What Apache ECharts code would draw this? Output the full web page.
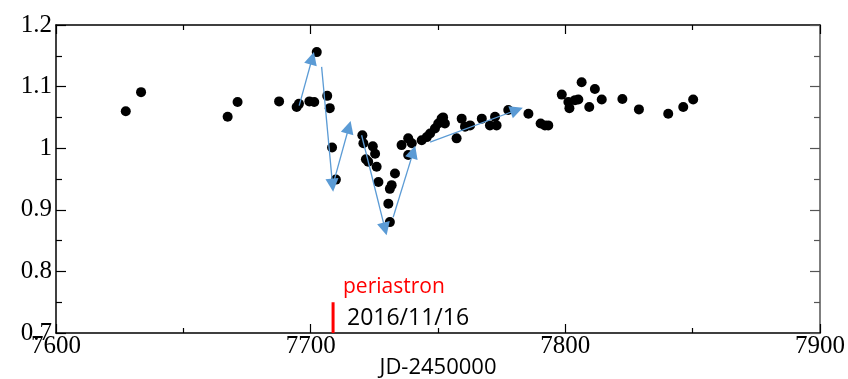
<!DOCTYPE html>
<html>
<head>
<meta charset="utf-8">
<script src="https://cdn.jsdelivr.net/npm/echarts@6/dist/echarts.min.js"></script>
<style>
  html, body { margin: 0; padding: 0; background: #fff; }
  #chart { width: 848px; height: 379px; }
</style>
</head>
<body>
<div id="chart"></div>
<script>
// JD-2450000 of each observation
var jd = [
  7627.4, 7633.4, 7667.4, 7671.3, 7687.6, 7694.5, 7695.4, 7699.5, 7701.4, 7702.4,
  7706.5, 7707.5, 7708.4, 7709.9, 7720.3, 7720.7, 7724.4, 7725.3, 7722.6, 7721.7,
  7725.9, 7726.6, 7733.1, 7731.8, 7731.1, 7730.5, 7731.1, 7735.7, 7738.3, 7739.7,
  7738.3, 7743.6, 7745.6, 7746.9, 7748.8, 7750.1, 7751.4, 7752.0, 7752.7, 7757.3,
  7759.3, 7760.6, 7762.6, 7767.2, 7770.4, 7772.4, 7773.0, 7777.6, 7785.5, 7790.3,
  7792.0, 7793.3, 7798.6, 7801.2, 7801.6, 7803.8, 7805.1, 7806.4, 7809.4, 7811.6,
  7814.3, 7822.4, 7828.9, 7840.4, 7846.3, 7850.2
]
// relative flux
var flux = [
  1.060, 1.091, 1.051, 1.075, 1.076, 1.067, 1.072, 1.076, 1.075, 1.156,
  1.085, 1.065, 1.001, 0.949, 1.021, 1.008, 1.003, 0.991, 0.978, 0.982,
  0.970, 0.945, 0.959, 0.940, 0.934, 0.910, 0.880, 1.005, 1.016, 1.008,
  0.989, 1.013, 1.018, 1.024, 1.032, 1.040, 1.048, 1.050, 1.040, 1.016,
  1.048, 1.035, 1.037, 1.048, 1.037, 1.051, 1.037, 1.062, 1.056, 1.040,
  1.037, 1.037, 1.087, 1.075, 1.065, 1.078, 1.079, 1.107, 1.067, 1.096,
  1.079, 1.080, 1.063, 1.056, 1.067, 1.079
]
// trend arrows: [fromJD, fromFlux, toJD, toFlux]
var arrows = [
  [7695.5, 1.069, 7700.6, 1.146],
  [7704.3, 1.132, 7708.6, 0.940],
  [7708.9, 0.943, 7715.0, 1.034],
  [7720.0, 1.021, 7729.2, 0.869],
  [7732.4, 0.888, 7740.3, 0.994],
  [7746.9, 1.010, 7780.9, 1.062]
]
var periastron = 7708.8
var xTicks = [7600, 7700, 7800, 7900]
var yTicks = [0.7, 0.8, 0.9, 1, 1.1, 1.2]

var points = jd.map(function (x, i) { return [x, flux[i]] })
var arrowData = arrows.map(function (a) {
  return { coords: [[a[0], a[1]], [a[2], a[3]]] }
})

var serif = '"Liberation Serif", "Times New Roman", serif'
var sans = '"Open Sans", "Noto Sans", sans-serif'

var chart = echarts.init(document.getElementById('chart'), null, { renderer: 'canvas' })

var axisLine = { show: true, lineStyle: { color: '#000', width: 1.5 } }

chart.setOption({
  animation: false,
  grid: { left: 56, right: 28, top: 25, bottom: 46, outerBoundsMode: 'none' },
  xAxis: [{
    type: 'value',
    min: xTicks[0],
    max: xTicks[xTicks.length - 1],
    interval: 100,
    name: 'JD-2450000',
    nameLocation: 'middle',
    nameGap: 24,
    nameMoveOverlap: false,
    nameTextStyle: { color: '#000', fontFamily: sans, fontSize: 22 },
    axisLine: axisLine,
    axisTick: { inside: true, length: 9, lineStyle: { color: '#000', width: 1.2 } },
    minorTick: { show: true, splitNumber: 2, length: 5, lineStyle: { color: '#000', width: 1.2 } },
    axisLabel: {
      color: '#000', fontFamily: serif, fontSize: 25, margin: 1,
      formatter: function (v) { return String(v) }
    },
    splitLine: { show: false }
  }, {
    type: 'value',
    position: 'top',
    min: xTicks[0],
    max: xTicks[xTicks.length - 1],
    interval: 100,
    axisLine: axisLine,
    axisTick: { inside: true, length: 9, lineStyle: { color: '#000', width: 1.2 } },
    minorTick: { show: true, splitNumber: 2, length: 5, lineStyle: { color: '#000', width: 1.2 } },
    axisLabel: { show: false },
    splitLine: { show: false }
  }],
  yAxis: [{
    type: 'value',
    min: yTicks[0],
    max: yTicks[yTicks.length - 1],
    interval: 0.1,
    axisLine: axisLine,
    axisTick: { inside: true, length: 10, lineStyle: { color: '#000', width: 1.2 } },
    minorTick: { show: true, splitNumber: 2, length: 6, lineStyle: { color: '#000', width: 1.2 } },
    axisLabel: {
      color: '#000', fontFamily: serif, fontSize: 25, margin: 4,
      formatter: function (v) { return String(+v.toFixed(1)) }
    },
    splitLine: { show: false }
  }, {
    type: 'value',
    position: 'right',
    min: yTicks[0],
    max: yTicks[yTicks.length - 1],
    interval: 0.1,
    axisLine: { show: true, lineStyle: { color: '#555', width: 1.5 } },
    axisTick: { inside: true, length: 10, lineStyle: { color: '#555', width: 1.2 } },
    minorTick: { show: true, splitNumber: 2, length: 6, lineStyle: { color: '#555', width: 1.2 } },
    axisLabel: { show: false },
    splitLine: { show: false }
  }],
  series: [{
    type: 'lines',
    coordinateSystem: 'cartesian2d',
    z: 3,
    symbol: ['none', 'triangle'],
    symbolSize: [0, 13],
    lineStyle: { color: '#5B9BD5', width: 1.3, opacity: 1 },
    data: arrowData
  }, {
    type: 'scatter',
    z: 2,
    symbol: 'circle',
    symbolSize: 10,
    itemStyle: { color: '#000', opacity: 1 },
    data: points
  }, {
    type: 'line',
    z: 4,
    symbol: 'none',
    lineStyle: { color: '#FF0000', width: 3 },
    data: [[periastron, 0.7], [periastron, 0.75]]
  }],
  graphic: [{
    type: 'text',
    left: 343,
    top: 277,
    style: { text: 'periastron', fill: '#FF0000', font: '21px ' + sans }
  }, {
    type: 'text',
    left: 347,
    top: 307,
    style: { text: '2016/11/16', fill: '#000', font: '23px ' + sans }
  }]
})
</script>
</body>
</html>
